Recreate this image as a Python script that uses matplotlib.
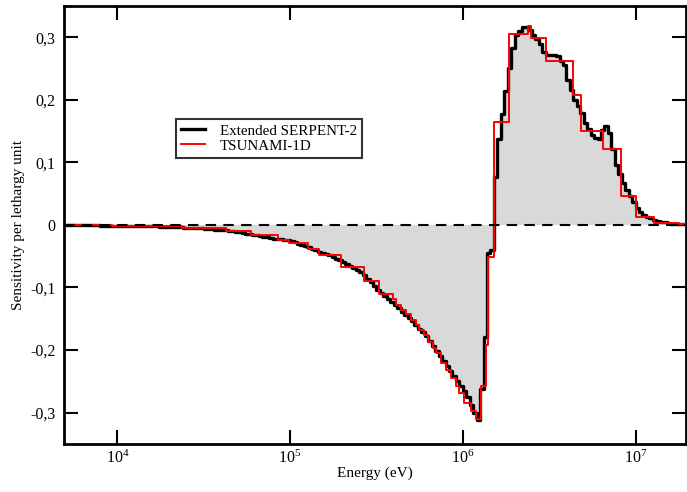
import numpy as np
import matplotlib
matplotlib.use("Agg")
import matplotlib.pyplot as plt
from matplotlib.ticker import FuncFormatter, LogLocator, NullLocator

# Extended SERPENT-2: uniform lethargy grid, 50 bins per decade (log10 eV)
serpent_log_lo, serpent_log_hi = 3.7, 7.3
serpent_vals = [
    -0.0005, -0.0005, -0.0005, -0.0006, -0.0007, -0.0008, -0.0008, -0.0009, -0.0010, -0.0010,
    -0.0011, -0.0012, -0.0012, -0.0013, -0.0014, -0.0015, -0.0016, -0.0017, -0.0018, -0.0019,
    -0.0020, -0.0021, -0.0022, -0.0023, -0.0024, -0.0025, -0.0026, -0.0027, -0.0028, -0.0029,
    -0.0030, -0.0033, -0.0036, -0.0040, -0.0043, -0.0046, -0.0049, -0.0052, -0.0055, -0.0058,
    -0.0060, -0.0065, -0.0070, -0.0075, -0.0080, -0.0085, -0.0090, -0.0095, -0.0100, -0.0110,
    -0.012, -0.013, -0.014, -0.015, -0.016, -0.017, -0.018, -0.019, -0.020, -0.021,
    -0.022, -0.022, -0.023, -0.024, -0.025, -0.026, -0.028, -0.030, -0.032, -0.034,
    -0.036, -0.038, -0.040, -0.043, -0.045, -0.047, -0.049, -0.052, -0.055, -0.057,
    -0.060, -0.062, -0.066, -0.069, -0.072, -0.075, -0.080, -0.086, -0.092, -0.098,
    -0.104, -0.109, -0.114, -0.119, -0.124, -0.128, -0.133, -0.139, -0.144, -0.149,
    -0.154, -0.160, -0.166, -0.172, -0.178, -0.185, -0.193, -0.201, -0.209, -0.217,
    -0.225, -0.233, -0.241, -0.249, -0.257, -0.265, -0.276, -0.288, -0.300, -0.312,
    -0.262, -0.180, -0.045, -0.040, 0.076, 0.137, 0.177, 0.214, 0.250, 0.282,
    0.303, 0.310, 0.316, 0.317, 0.311, 0.304, 0.297, 0.289, 0.276, 0.272,
    0.272, 0.271, 0.270, 0.262, 0.256, 0.232, 0.216, 0.200, 0.190, 0.178,
    0.163, 0.154, 0.143, 0.139, 0.138, 0.152, 0.158, 0.147, 0.122, 0.095,
    0.082, 0.067, 0.056, 0.046, 0.037, 0.027, 0.021, 0.016, 0.013, 0.011,
    0.008, 0.006, 0.005, 0.004, 0.003, 0.002, 0.002, 0.001, 0.001, 0.001,
]

# TSUNAMI-1D: group boundaries (log10 eV) and values
tsunami_log_edges = [
    3.70, 3.97, 4.376, 4.631, 4.774, 4.928, 4.996, 5.102, 5.17, 5.295,
    5.43, 5.517, 5.594, 5.614, 5.643, 5.672, 5.70, 5.729, 5.749, 5.778,
    5.797, 5.826, 5.845, 5.874, 5.903, 5.932, 5.961, 5.98, 6.009, 6.048,
    6.077, 6.106, 6.135, 6.148, 6.18, 6.27, 6.376, 6.395, 6.482, 6.636,
    6.685, 6.81, 6.917, 7.003, 7.109, 7.254, 7.30,
]
tsunami_vals = [
    -0.0005, -0.002, -0.005, -0.010, -0.016, -0.024, -0.029, -0.038, -0.049, -0.068,
    -0.090, -0.111, -0.118, -0.128, -0.136, -0.143, -0.152, -0.160, -0.168, -0.176,
    -0.187, -0.197, -0.205, -0.221, -0.232, -0.245, -0.258, -0.269, -0.285, -0.298,
    -0.310, -0.258, -0.192, -0.051, 0.165, 0.305, 0.318, 0.298, 0.262, 0.207,
    0.150, 0.121, 0.046, 0.012, 0.003, 0.001,
]

y_ticks = [-0.3, -0.2, -0.1, 0, 0.1, 0.2, 0.3]

plt.rcParams['font.family'] = ['Liberation Serif', 'DejaVu Serif']
plt.rcParams['mathtext.fontset'] = 'stix'

s_edges = np.logspace(serpent_log_lo, serpent_log_hi, len(serpent_vals) + 1)
s_y = np.append(serpent_vals, serpent_vals[-1])
t_edges = 10 ** np.array(tsunami_log_edges)
t_y = np.append(tsunami_vals, tsunami_vals[-1])

fig = plt.figure(figsize=(6.87, 4.92), dpi=100)
ax = fig.add_axes([0.093, 0.098, 0.905, 0.89])

ax.fill_between(s_edges, s_y, 0, step='post', color='#d9d9d9', lw=0, zorder=1)
ax.step(s_edges, s_y, where='post', color='black', lw=2.4, zorder=3,
        label='Extended SERPENT-2')
ax.step(t_edges, t_y, where='post', color='#ff0000', lw=1.4, zorder=4,
        label='TSUNAMI-1D')
ax.axhline(0, color='black', lw=1.5, ls=(0, (5, 3.5)), zorder=5)

ax.set_xscale('log')
ax.set_xlim(4.9e3, 1.95e7)
ax.set_ylim(-0.35, 0.35)
ax.xaxis.set_major_locator(LogLocator(base=10, numticks=10))
ax.xaxis.set_minor_locator(NullLocator())
ax.set_yticks(y_ticks)
ax.yaxis.set_major_formatter(FuncFormatter(
    lambda v, p: '0' if abs(v) < 1e-9 else f'{v:.1f}'.replace('.', ',')))

ax.tick_params(which='major', direction='in', length=10, width=1.5,
               top=True, right=True, labelsize=11.5, pad=6)
ax.tick_params(axis='x', pad=4)
for sp in ax.spines.values():
    sp.set_linewidth(2)

ax.set_xlabel('Energy (eV)', fontsize=11, labelpad=0)
ax.set_ylabel('Sensitivity per lethargy unit', fontsize=11, labelpad=4)

leg = ax.legend(loc='upper left', bbox_to_anchor=(0.18, 0.742), fontsize=10.8,
                frameon=True, fancybox=False, borderpad=0.35, handlelength=1.6,
                labelspacing=0.1, handletextpad=1.0, borderaxespad=0)
leg.get_frame().set_edgecolor('black')
leg.get_frame().set_linewidth(1.5)

fig.savefig('out.png', dpi=100)
